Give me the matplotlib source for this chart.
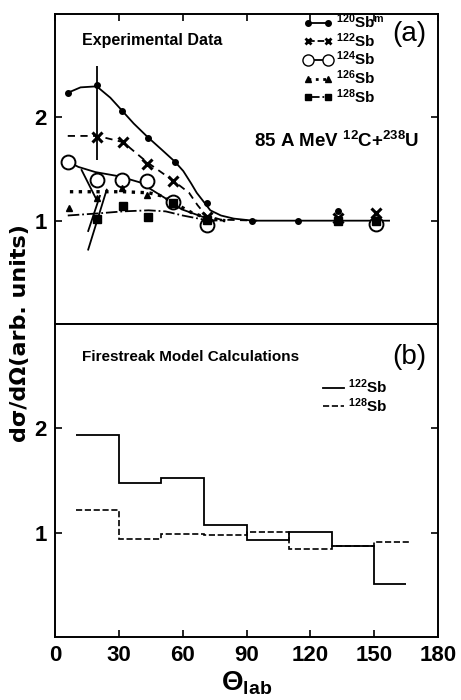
import matplotlib
matplotlib.use('Agg')
import matplotlib.pyplot as plt
from matplotlib.lines import Line2D

plt.rcParams['font.family'] = ['Liberation Sans', 'DejaVu Sans']
plt.rcParams['mathtext.fontset'] = 'custom'
plt.rcParams['mathtext.rm'] = 'Liberation Sans:bold'
plt.rcParams['mathtext.bf'] = 'Liberation Sans:bold'
plt.rcParams['mathtext.it'] = 'Liberation Sans:bold'

# ---- panel (a): experimental data ----
sb120_x = [6.3, 19.6, 31.3, 43.5, 56.4, 71.3, 92.4, 114, 132.8, 150.8]
sb120_y = [2.24, 2.31, 2.06, 1.80, 1.57, 1.17, 1.0, 1.0, 1.09, 1.0]
sb122_x = [19.6, 32.1, 43.1, 55.6, 71.3, 132.8, 150.8]
sb122_y = [1.81, 1.76, 1.55, 1.38, 1.04, 1.03, 1.07]
sb124_x = [6.3, 19.6, 31.3, 43.1, 55.6, 71.3, 150.8]
sb124_y = [1.57, 1.39, 1.39, 1.38, 1.18, 0.96, 0.97]
sb126_x = [6.6, 19.6, 31.3, 43.1, 71.3, 132.8]
sb126_y = [1.12, 1.22, 1.32, 1.25, 1.02, 1.0]
sb128_x = [19.6, 32.1, 43.9, 55.6, 71.3, 132.8, 150.8]
sb128_y = [1.02, 1.14, 1.04, 1.17, 1.01, 1.0, 1.0]

# hand drawn guide curves
c120_x = [6.3, 12, 19.6, 26, 31.3, 37, 43.5, 50, 56.4, 60.3, 64, 66.6, 70, 73, 78, 84, 93, 110, 157]
c120_y = [2.24, 2.29, 2.30, 2.19, 2.07, 1.94, 1.81, 1.69, 1.57, 1.48, 1.36, 1.27, 1.18, 1.10, 1.05, 1.02, 1.0, 1.0, 1.0]
c122_x = [6, 20, 32, 43, 56, 63, 67, 71, 78, 95]
c122_y = [1.82, 1.82, 1.76, 1.57, 1.38, 1.27, 1.15, 1.05, 1.01, 1.0]
c124_x = [6.3, 11, 19, 30, 40, 43, 54, 59.5, 69, 75]
c124_y = [1.57, 1.52, 1.47, 1.43, 1.37, 1.33, 1.19, 1.11, 1.04, 1.0]
c126_x = [7, 20, 32, 44, 50, 56, 64, 72, 80]
c126_y = [1.28, 1.28, 1.28, 1.27, 1.24, 1.17, 1.08, 1.02, 1.0]
c128_x = [6, 20, 32, 44, 52, 60, 70, 80]
c128_y = [1.05, 1.07, 1.09, 1.10, 1.09, 1.05, 1.01, 1.0]

# error bar and slanted bars near 20 deg
err_x = 19.6
err_lo, err_hi = 1.59, 2.50
slash_x = [(12.5, 19.6), (15.6, 21.1), (15.6, 24.3)]
slash_y = [(1.49, 1.20), (0.90, 1.24), (0.72, 1.30)]

# ---- panel (b): firestreak histograms ----
bin_edges = [10, 30, 50, 70, 90, 110, 130, 150, 165]
fs122 = [1.94, 1.48, 1.52, 1.07, 0.93, 1.01, 0.87, 0.51]
bin_edges128 = [10, 30, 50, 70, 90, 110, 130, 150, 167]
fs128 = [1.22, 0.94, 0.99, 0.98, 1.01, 0.84, 0.87, 0.91]

xticks = [0, 30, 60, 90, 120, 150, 180]

W, H = 461, 700
fig = plt.figure(figsize=(W / 100, H / 100), dpi=100)
ax1 = fig.add_axes([55 / W, 1 - 324 / H, 383 / W, 310 / H])
ax2 = fig.add_axes([55 / W, 1 - 637 / H, 383 / W, 313 / H])

for ax in (ax1, ax2):
    ax.set_xlim(0, 180)
    ax.set_ylim(0, 3)
    ax.set_xticks(xticks)
    ax.set_yticks([1, 2])
    for s in ax.spines.values():
        s.set_linewidth(1.4)
    ax.tick_params(direction='in', length=5, width=1.2, right=True,
                   labelsize=16, pad=6)
    for lab in ax.get_yticklabels():
        lab.set_fontweight('bold')

ax1.tick_params(top=True, bottom=False, labelbottom=False)
ax2.tick_params(top=False, bottom=True)
for lab in ax2.get_xticklabels():
    lab.set_fontweight('bold')

k = dict(color='black', lw=1.3)
ax1.plot(c120_x, c120_y, '-', **k)
ax1.plot(c122_x, c122_y, '--', dashes=(4, 3), **k)
ax1.plot(c124_x, c124_y, '-', **k)
ax1.plot(c126_x, c126_y, ':', color='black', lw=2.4)
ax1.plot(c128_x, c128_y, '-.', **k)
ax1.vlines(err_x, err_lo, err_hi, color='black', lw=1.3)
for sx, sy in zip(slash_x, slash_y):
    ax1.plot(sx, sy, '-', **k)

ax1.plot(sb120_x, sb120_y, 'o', color='black', ms=4)
ax1.plot(sb122_x, sb122_y, 'x', color='black', ms=7, mew=2.2)
ax1.plot(sb124_x, sb124_y, 'o', mfc='white', mec='black', ms=10, mew=1.4)
ax1.plot(sb126_x, sb126_y, '^', color='black', ms=5)
ax1.plot(sb128_x, sb128_y, 's', color='black', ms=6)

h = [
    Line2D([], [], color='black', lw=1.3, marker='o', ms=4),
    Line2D([], [], color='black', lw=1.3, ls='--', marker='x', ms=5, mew=2),
    Line2D([], [], color='black', lw=1.3, marker='o', mfc='white', ms=8),
    Line2D([], [], color='black', lw=2, ls=':', marker='^', ms=5),
    Line2D([], [], color='black', lw=1.3, ls='-.', marker='s', ms=5),
]
labels = [r'$^{120}$Sb$^{\mathrm{m}}$', r'$^{122}$Sb', r'$^{124}$Sb',
          r'$^{126}$Sb', r'$^{128}$Sb']
ax1.legend(h, labels, loc='upper left', bbox_to_anchor=(296 / W, 1 - 5 / H),
           bbox_transform=fig.transFigure,
           frameon=False, numpoints=2, handlelength=1.9,
           handletextpad=0.25, labelspacing=0.0, borderpad=0,
           prop=dict(weight='bold', size=11))

ax1.text(0.07, 0.915, 'Experimental Data', transform=ax1.transAxes,
         fontsize=11.5, fontweight='bold', va='center')
ax1.text(0.88, 0.935, '(a)', transform=ax1.transAxes, fontsize=20,
         va='center')
ax1.text(0.52, 0.59, r'85 A MeV $^{12}$C+$^{238}$U', transform=ax1.transAxes,
         fontsize=13.5, fontweight='bold', va='center')

ax2.stairs(fs122, bin_edges, color='black', lw=1.3, baseline=None)
ax2.stairs(fs128, bin_edges128, color='black', lw=1.2, ls='--',
           baseline=None)

h2 = [Line2D([], [], color='black', lw=1.3),
      Line2D([], [], color='black', lw=1.2, ls='--')]
ax2.legend(h2, [r'$^{122}$Sb', r'$^{128}$Sb'], loc='upper left',
           bbox_to_anchor=(315 / W, 1 - 370 / H),
           bbox_transform=fig.transFigure, frameon=False, handlelength=1.4,
           handletextpad=0.25, labelspacing=0.0, borderpad=0,
           prop=dict(weight='bold', size=11))
ax2.text(0.07, 0.895, 'Firestreak Model Calculations', transform=ax2.transAxes,
         fontsize=11, fontweight='bold', va='center')
ax2.text(0.88, 0.895, '(b)', transform=ax2.transAxes, fontsize=20,
         va='center')

ax2.set_xlabel(r'$\Theta_{\mathrm{lab}}$', fontsize=20, labelpad=2)
fig.text(20 / W, 1 - 333 / H, 'dσ/dΩ(arb. units)', rotation=90,
         family=['DejaVu Sans'], fontsize=16, fontweight='bold',
         ha='center', va='center')

fig.savefig('out.png', dpi=100)
